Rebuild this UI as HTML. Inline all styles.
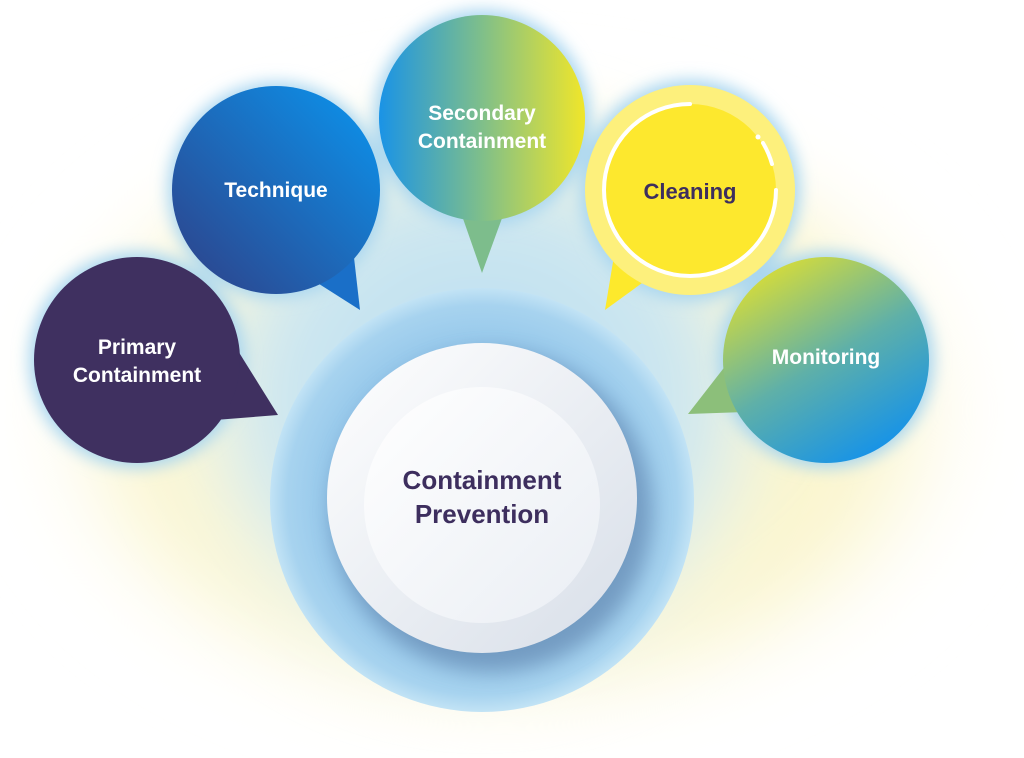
<!DOCTYPE html>
<html><head><meta charset="utf-8"><style>
html,body{margin:0;padding:0;background:#fff;width:1024px;height:758px;overflow:hidden}
svg{display:block}
text{font-family:"Liberation Sans",sans-serif;font-weight:bold;text-anchor:middle}
</style></head><body>
<svg width="1024" height="758" viewBox="0 0 1024 758" xmlns="http://www.w3.org/2000/svg">
<defs>
<radialGradient id="bgY" cx="0.5" cy="0.5" r="0.5">
<stop offset="0" stop-color="#f7f0b0"/><stop offset="0.75" stop-color="#fbf6d2"/><stop offset="1" stop-color="#ffffff" stop-opacity="0"/>
</radialGradient>
<radialGradient id="bgB" cx="0.5" cy="0.5" r="0.5">
<stop offset="0" stop-color="#b8dcf2"/><stop offset="0.7" stop-color="#cfe8f0"/><stop offset="1" stop-color="#ffffff" stop-opacity="0"/>
</radialGradient>
<radialGradient id="halo" cx="0.5" cy="0.5" r="0.5">
<stop offset="0.7" stop-color="#93c6ea"/><stop offset="0.92" stop-color="#a7d3ef"/><stop offset="1" stop-color="#c2e3f5"/>
</radialGradient>
<linearGradient id="white1" x1="0" y1="0" x2="1" y2="1">
<stop offset="0" stop-color="#ffffff"/><stop offset="1" stop-color="#d7dee8"/>
</linearGradient>
<linearGradient id="white2" x1="0" y1="0" x2="1" y2="1">
<stop offset="0" stop-color="#ffffff"/><stop offset="1" stop-color="#eaeef4"/>
</linearGradient>
<linearGradient id="tech" x1="0" y1="1" x2="1" y2="0">
<stop offset="0" stop-color="#2f3f86"/><stop offset="1" stop-color="#0a96f0"/>
</linearGradient>
<linearGradient id="sec" x1="0" y1="0" x2="1" y2="0">
<stop offset="0" stop-color="#1a93e6"/><stop offset="0.5" stop-color="#7fbf8a"/><stop offset="1" stop-color="#f0e62a"/>
</linearGradient>
<linearGradient id="mon" x1="0.2" y1="0" x2="0.8" y2="1">
<stop offset="0" stop-color="#e0e030"/><stop offset="0.5" stop-color="#5fb0a8"/><stop offset="1" stop-color="#0d8ff0"/>
</linearGradient>
<filter id="blur" x="-50%" y="-50%" width="200%" height="200%"><feGaussianBlur stdDeviation="35"/></filter>
<filter id="glow" x="-30%" y="-30%" width="160%" height="160%"><feGaussianBlur stdDeviation="8"/></filter>
<filter id="sh" x="-30%" y="-30%" width="160%" height="160%"><feGaussianBlur stdDeviation="10"/></filter>
</defs>
<ellipse cx="505" cy="410" rx="505" ry="335" fill="url(#bgY)" filter="url(#blur)"/>
<ellipse cx="480" cy="400" rx="320" ry="300" fill="url(#bgB)" filter="url(#blur)"/>
<!-- glows behind bubbles -->
<g filter="url(#glow)" fill="#a8d6f0">
<circle cx="137" cy="360" r="108"/><circle cx="276" cy="190" r="108"/><circle cx="482" cy="118" r="108"/>
<circle cx="690" cy="190" r="110"/><circle cx="826" cy="360" r="108"/>
</g>
<!-- halo -->
<circle cx="482" cy="500" r="212" fill="url(#halo)"/>
<circle cx="492" cy="512" r="160" fill="#5d7fa8" opacity="0.6" filter="url(#sh)"/>
<circle cx="482" cy="498" r="155" fill="url(#white1)"/>
<circle cx="482" cy="505" r="118" fill="url(#white2)"/>
<text x="482" y="489" font-size="26" fill="#3d2e5e">Containment</text>
<text x="482" y="523" font-size="26" fill="#3d2e5e">Prevention</text>
<!-- Primary -->
<path d="M225 330 L278 415 L215 420 Z" fill="#3f3060"/>
<circle cx="137" cy="360" r="103" fill="#3f3060"/>
<text x="137" y="354" font-size="21" fill="#fff">Primary</text>
<text x="137" y="382" font-size="21" fill="#fff">Containment</text>
<!-- Technique -->
<path d="M352 240 L360 310 L305 275 Z" fill="#1a6fc8"/>
<circle cx="276" cy="190" r="104" fill="url(#tech)"/>
<text x="276" y="197" font-size="21" fill="#fff">Technique</text>
<!-- Secondary -->
<path d="M460 210 L482 273 L505 210 Z" fill="#7dbd8c"/>
<circle cx="482" cy="118" r="103" fill="url(#sec)"/>
<text x="482" y="120" font-size="21" fill="#fff">Secondary</text>
<text x="482" y="148" font-size="21" fill="#fff">Containment</text>
<!-- Cleaning -->
<path d="M615 250 L605 310 L660 270 Z" fill="#fde92c"/>
<circle cx="690" cy="190" r="105" fill="#fdf07c"/>
<circle cx="690" cy="190" r="86" fill="#fde82e"/>
<path d="M690 104 A86 86 0 1 0 776 190" fill="none" stroke="#fff" stroke-width="4" stroke-linecap="round"/>
<path d="M763 143 A86 86 0 0 1 772 164" fill="none" stroke="#fff" stroke-width="4" stroke-linecap="round"/>
<circle cx="758" cy="137" r="2.5" fill="#fff"/>
<text x="690" y="199" font-size="22" fill="#3d2e5e">Cleaning</text>
<!-- Monitoring -->
<path d="M730 360 L688 414 L745 412 Z" fill="#8cbf7a"/>
<circle cx="826" cy="360" r="103" fill="url(#mon)"/>
<text x="826" y="364" font-size="21" fill="#fff">Monitoring</text>
</svg>
</body></html>
